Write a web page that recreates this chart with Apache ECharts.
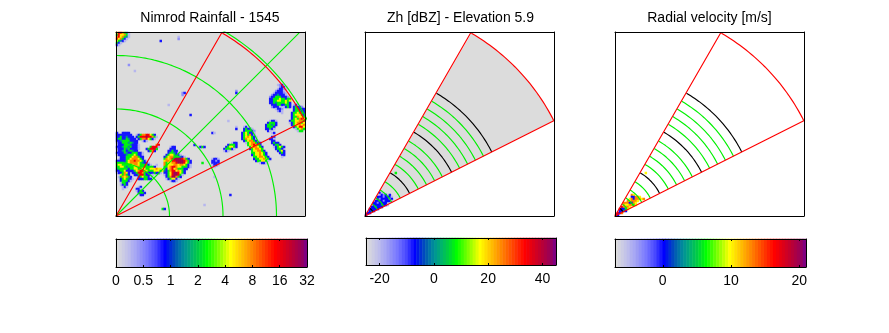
<!DOCTYPE html>
<html>
<head>
<meta charset="utf-8">
<style>
  html, body { margin: 0; padding: 0; background: #fff; }
  #chart { width: 889px; height: 333px; }
</style>
<script src="https://cdn.jsdelivr.net/npm/echarts@6/dist/echarts.min.js"></script>
</head>
<body>
<div id="chart"></div>
<script>
// colour scale, bottom to top
const colourLevels = [
  '#dcdcdc', '#d4d4e0', '#cccce4', '#c4c4e8', '#bcbcec', '#b0b0f0', '#a8a8f4', '#9c9cf4',
  '#9090f8', '#8484fc', '#7878ff', '#6868ff', '#5858ff', '#4848ff', '#3030ff', '#1818ff',
  '#0000ff', '#0018e8', '#0030d4', '#0048c0', '#0060b0', '#0074a8', '#00889c', '#009890',
  '#00a480', '#00b46c', '#00c058', '#00cc44', '#00dc30', '#00ec18', '#00ff00', '#20ff00',
  '#40ff00', '#60ff00', '#80ff00', '#a0ff00', '#c0ff00', '#e0ff00', '#ffff00', '#ffee00',
  '#ffdd00', '#ffcc00', '#ffbb00', '#ffaa00', '#ff9900', '#ff8800', '#ff7700', '#ff6600',
  '#ff5500', '#ff4400', '#ff3300', '#ff2200', '#ff1100', '#ff0000', '#f40008', '#e80010',
  '#dc0018', '#d00024', '#c4002c', '#b80038', '#ac0044', '#a00050', '#940060', '#800080'
]

// tick labels
const rainTicks = ['0', '0.5', '1', '2', '4', '8', '16', '32']
const dbzTicks = [-20, 0, 20, 40]
const velTicks = [0, 10, 20]

// what each letter of the rasters below stands for, in the unit of the panel
const rainCodes = { l: 0.25, m: 0.45, b: 0.8, t: 1.4, g: 2.4, y: 5, o: 8, r: 16, p: 27 }
const dbzCodes = { l: -20, m: -15, b: -7.5, t: 0, g: 8, y: 17 }
const velCodes = { l: -5, b: 0, t: 3, g: 6, y: 10, o: 13, r: 17 }

// runs of cells: [first column, row from the top, one letter per cell]
const rainCorner = [
  [0, 0, 'yrrogtl'], [0, 1, 'gryyogl'], [0, 2, 'oryogtl'], [0, 3, 'ryogbl'],
  [0, 4, 'ygtbl'], [0, 5, 'gbl'], [0, 6, 'bl']
]
const rainWest = [
  [0, 50, 'b..bbbb'],
  [0, 51, 'bbbbbbbb..lbgoorrygb'],
  [0, 52, 'bbgbbtbbb.bgrrrprrogl'],
  [0, 53, 'bggbbgtbbb.bgoorygbl'],
  [0, 54, 'bbtggggbbbb..lbl'],
  [0, 55, 'mbbgggtgtbb'],
  [0, 56, 'lbbbgggtbbbl........or'],
  [0, 57, 'bbbtggtgbbbl.....grrrl.....lbb'],
  [0, 58, 'mbbbgtgbbbbl...bgrrpg......bbb'],
  [0, 59, 'lbbtgbtgtbb.....bgob......bbgbb'],
  [0, 60, 'bbbbgtbbgggbbl............bggtbl'],
  [0, 61, 'lbbbbtgggygbbl...........bgyygbbl'],
  [0, 62, '..bbbgggyoogbb..........bgyoogggtbl'],
  [0, 63, '.lbbbggyoooygb..........goyorpppprogb'],
  [0, 64, 'bbbbbgyoorooygbl........yooyrrpppprogb'],
  [0, 65, 'ggggtgyooooygtbbl.......ogyyoorppprygb'],
  [0, 66, 'gyygggggyooyggggbl..l...ogyyyooyooygbl'],
  [0, 67, 'ggyygtgggyyogggggggb....ggyorroyygggbl'],
  [0, 68, 'tgggggbggyygoyyggyyyoyy.gbyoryogggbb'],
  [0, 69, 'bbggybbbbgyorroygggyyygytbgorryoygb'],
  [0, 70, 'lbbgoyb.bbgrrogbbbbgbbl.bbgyrpprygb'],
  [0, 71, '..ygogb..bbgrrgbb.l.....lbgyrpprgl'],
  [0, 72, '.lgoyogb...bgyggbl.......bgoppogb'],
  [0, 73, '..bgygtbl.lbbbggbb.......lbgyybl'],
  [0, 74, '..bgggbl...................lbbl'],
  [0, 75, '..lggb'], [0, 76, '..lbgb'], [0, 77, '...lbl.....lb'],
  [0, 78, '...l......bbl'], [0, 79, '..........lbgb'], [0, 80, '...........bggb'], [0, 81, '............bb']
]
const rainCentre = [
  [64, 47, 'lbl'], [64, 48, 'bgbbl'], [64, 49, 'bgggbm'], [63, 50, 'bgygbbl'], [63, 51, 'bgygobm'],
  [63, 52, 'bgyoygbl'], [63, 53, 'bgoyygbl'], [64, 54, 'bgyoogbl'], [65, 55, 'lgyoogbb'],
  [66, 56, 'gyorogb'], [67, 57, 'gyooygb'], [67, 58, 'bgyooyg'], [68, 59, 'gyyoogb'],
  [68, 60, 'ggyyoygb'], [68, 61, 'bgyyoygb'], [69, 62, 'ggyooygb'], [69, 63, 'bggyyoygb'],
  [70, 64, 'bggyygl'], [72, 65, 'lbbl'],
  [58, 55, 'lbb'], [56, 56, 'bgggb'], [55, 57, 'bgyygb'], [54, 58, 'bgggbl'], [54, 59, 'lbl'],
  [48, 63, 'lbbl'], [48, 64, 'bbmb'], [48, 65, 'bbbb'], [48, 66, 'lbbl'], [49, 67, 'l']
]
const rainEast = [
  [77, 44, 'lbbl'], [76, 45, 'bgggb'], [75, 46, 'bggtgb'], [75, 47, 'bgggb'], [75, 48, 'bbgbl'], [76, 49, 'bl'],
  [78, 50, 'lb'], [78, 52, 'bb'], [77, 53, 'bbl'], [78, 54, 'bb'], [78, 55, 'bgbb'], [79, 56, 'bggb'],
  [79, 57, 'lbgygb'], [80, 58, 'bggb'], [81, 59, 'bgyb'], [82, 60, 'bgb'], [83, 61, 'bb'], [83, 62, 'l'],
  [81, 26, 'lmb'], [82, 27, 'mbbl'], [81, 28, 'lbbml'], [80, 29, 'mbbbl'], [79, 30, 'lbbbbml'], [78, 31, 'mbbtbbbl'],
  [77, 32, 'mbbgggbbbm'], [77, 33, 'bbgggyggbgg'], [77, 34, 'bbggyyggygy'], [77, 35, 'bbgtggggygb'],
  [78, 36, 'bbbggbbggb'], [78, 37, 'mbbbl.lbgb'], [80, 38, 'lbbm'], [81, 39, 'mbl'], [83, 40, 'l'],
  [89, 36, 'lb'], [89, 37, 'bgbbm'], [89, 38, 'bggbbb'], [89, 39, 'bgggbb'], [88, 40, 'bggyggb'], [88, 41, 'bgyyygb'],
  [88, 42, 'bggoyyg'], [88, 43, 'bgygory'], [87, 44, 'bggyyoog'], [87, 45, 'lbgyoogy'], [88, 46, 'bgyyoyo'],
  [89, 47, 'bgyrry'], [90, 48, 'lgyog'], [91, 49, 'lgg']
]
const rainSpecks = [
  [31, 2, 'l'], [31, 3, 'm'], [22, 4, 'b'], [6, 16, 'm'], [9, 19, 'l'], [33, 30, 'mb'], [33, 31, 'm'],
  [60, 29, 'm'], [60, 30, 'b'], [37, 41, 'b'], [26, 36, 'l'], [23, 88, 'gb'], [44, 86, 'l'], [57, 81, 'b'],
  [49, 72, 'l'], [41, 57, 'lbgb'], [39, 56, 'b'], [48, 50, 'bl'], [60, 47, 'l'], [60, 48, 'b'],
  [43, 65, 'g'], [56, 44, 'l']
]
const dbzCells = [
  [7, 80, 'bl'], [7, 81, 'lbmb.b'], [6, 82, 'bbbmbbbl'], [6, 83, 'bmbbbbmb'], [5, 84, 'bbbbmbbbl'],
  [4, 85, 'bbmbbbb'], [4, 86, 'bbbbtbbl'], [3, 87, 'bbtbbb'], [2, 88, 'bbbbb'], [2, 89, 'btb'],
  [1, 90, 'bb'], [0, 91, 'b'], [15, 70, 'g']
]
const velCells = [
  [8, 81, 'oy'], [8, 82, 'bbooy'], [7, 83, 'yoboooyo'], [6, 84, 'oyoooy'], [4, 85, 'ooobboy'],
  [4, 86, 'oyyoogy'], [3, 87, 'roooy'], [2, 88, 'rbbgy'], [2, 89, 'bbtb'], [1, 90, 'rbo'], [0, 91, 'rb'],
  [15, 70, 'y']
]

// radar geometry, same unit as the axes
const sectorAngles = [26.8, 60]
const sectorRange = 211.5
const rainRings = [53.5, 107, 160.5, 214]
const rainMidRay = 45
const beamBlackRings = [9, 50, 97, 142]
const beamGreenRings = [14, 21, 30, 39.6, 59.7, 69, 78, 86.7, 106, 115, 123.7, 132.7]

const COLS = 95
const ROWS = 92
const RED = '#ff0000'
const GREEN = '#00f000'
const BLACK = '#000000'

function rainPosition (v) {
  return v < 0.5 ? v / 0.5 : 1 + Math.log2(v / 0.5)
}

function unpack (runs, codes, toScale) {
  let cells = []
  runs.forEach(([col, row, text]) => {
    text.split('').forEach((c, i) => {
      if (c !== '.') cells.push([col + i, row, toScale ? toScale(codes[c]) : codes[c]])
    })
  })
  return cells
}

function polar (angle, r) {
  let a = angle * Math.PI / 180
  return [r * Math.cos(a), r * Math.sin(a)]
}

function ray (angle, r) {
  return [[0, 0], polar(angle, r / 2), polar(angle, r)]
}

function arc (r, from, to) {
  let pts = []
  for (let d = from; d <= to + 0.01; d += 0.5) pts.push(polar(d, r))
  return pts
}

let grid = []
let xAxis = []
let yAxis = []
let series = []
let visualMap = []

function addAxis (list, opts) {
  list.push(Object.assign({ show: false, silent: true }, opts))
  return list.length - 1
}

function frameSide (pos, min, max) {
  return {
    show: true, type: 'value', position: pos, min, max, z: 10,
    axisLine: { show: true, onZero: false, lineStyle: { color: BLACK, width: 1 } },
    axisTick: { show: false },
    axisLabel: { show: false },
    splitLine: { show: false }
  }
}

function addLine (xi, yi, data, color, z) {
  series.push({
    type: 'line', xAxisIndex: xi, yAxisIndex: yi, data, z: z || 3,
    showSymbol: false, symbol: 'none', silent: true, animation: false,
    lineStyle: { color, width: 1.15 }
  })
}

function addCells (gi, data, min, max) {
  let xi = addAxis(xAxis, { type: 'category', gridIndex: gi, data: Array.from({ length: COLS }, (_, i) => i) })
  let yi = addAxis(yAxis, { type: 'category', gridIndex: gi, inverse: true, data: Array.from({ length: ROWS }, (_, i) => i) })
  series.push({ type: 'heatmap', xAxisIndex: xi, yAxisIndex: yi, data, z: 2, silent: true, animation: false })
  visualMap.push({
    show: false, type: 'continuous', min, max, dimension: 2,
    seriesIndex: series.length - 1, inRange: { color: colourLevels }
  })
}

// one map panel: frame, value axes for the overlay lines, raster cells
function addPanel (left, bg, cells, min, max) {
  grid.push({
    left, top: 32, width: 189, height: 184, show: true,
    backgroundColor: bg, borderWidth: 0
  })
  let gi = grid.length - 1
  let xi = addAxis(xAxis, Object.assign(frameSide('bottom', 0, 189), { gridIndex: gi }))
  addAxis(xAxis, Object.assign(frameSide('top', 0, 189), { gridIndex: gi }))
  let yi = addAxis(yAxis, Object.assign(frameSide('left', 0, 184), { gridIndex: gi }))
  addAxis(yAxis, Object.assign(frameSide('right', 0, 184), { gridIndex: gi }))
  addCells(gi, cells, min, max)
  return [xi, yi]
}

function addSectorEdge (xi, yi) {
  addLine(xi, yi, ray(sectorAngles[0], sectorRange), RED, 4)
  addLine(xi, yi, ray(sectorAngles[1], sectorRange), RED, 4)
  addLine(xi, yi, arc(sectorRange, sectorAngles[0], sectorAngles[1]), RED, 4)
}

function addBeamRings (xi, yi) {
  beamGreenRings.forEach(r => addLine(xi, yi, arc(r, sectorAngles[0], sectorAngles[1]), GREEN))
  beamBlackRings.forEach(r => addLine(xi, yi, arc(r, sectorAngles[0], sectorAngles[1]), BLACK))
}

function addColourBar (left, top, width, height, min, max, ticks, margin, fmt) {
  grid.push({ left, top, width, height })
  let gi = grid.length - 1
  let levels = colourLevels.map((_, i) => i)
  let step = (max - min) / (levels.length - 1)
  let xc = addAxis(xAxis, { type: 'category', gridIndex: gi, data: levels })
  let yc = addAxis(yAxis, { type: 'category', gridIndex: gi, data: ['bar'] })
  series.push({
    type: 'heatmap', xAxisIndex: xc, yAxisIndex: yc, z: 2, silent: true, animation: false,
    data: levels.map(i => [i, 0, min + i * step])
  })
  visualMap.push({
    show: false, type: 'continuous', min, max, dimension: 2,
    seriesIndex: series.length - 1, inRange: { color: colourLevels }
  })
  let tick = { show: true, inside: true, length: 2, customValues: ticks, lineStyle: { color: BLACK, width: 1 } }
  addAxis(xAxis, Object.assign(frameSide('bottom', min, max), {
    gridIndex: gi,
    axisTick: tick,
    axisLabel: {
      show: true, customValues: ticks, margin, hideOverlap: false,
      color: '#000', fontFamily: 'Liberation Sans', fontSize: 14,
      formatter: fmt || (v => String(v))
    }
  }))
  addAxis(xAxis, Object.assign(frameSide('top', min, max), { gridIndex: gi, axisTick: tick }))
  addAxis(yAxis, Object.assign(frameSide('left', 0, 1), { gridIndex: gi }))
  addAxis(yAxis, Object.assign(frameSide('right', 0, 1), { gridIndex: gi }))
}

// rain panel
let rainCells = [rainCorner, rainWest, rainCentre, rainEast, rainSpecks]
  .reduce((all, runs) => all.concat(unpack(runs, rainCodes, rainPosition)), [])
let [rx, ry] = addPanel(116, '#dcdcdc', rainCells, 0, 7)
rainRings.forEach(r => addLine(rx, ry, arc(r, 0, 90), GREEN))
addLine(rx, ry, ray(rainMidRay, 259), GREEN)
addSectorEdge(rx, ry)

// reflectivity panel
let [zx, zy] = addPanel(365, '#ffffff', unpack(dbzCells, dbzCodes), -25, 45)
series.push({
  type: 'custom', xAxisIndex: zx, yAxisIndex: zy, z: 1, silent: true, animation: false, clip: true,
  data: [[0, 0]],
  renderItem: (params, api) => ({
    type: 'polygon',
    shape: {
      points: [[0, 0]].concat(arc(sectorRange, sectorAngles[0], sectorAngles[1])).map(p => api.coord(p))
    },
    style: { fill: '#dcdcdc' }
  })
})
addBeamRings(zx, zy)
addSectorEdge(zx, zy)

// velocity panel
let [vx, vy] = addPanel(615, '#ffffff', unpack(velCells, velCodes), -7, 21)
addBeamRings(vx, vy)
addSectorEdge(vx, vy)

// colour bars
addColourBar(116, 239, 191, 28, 0, 7, rainTicks.map((_, i) => i), 7, v => rainTicks[v])
addColourBar(366, 238, 190, 27, -25, 45, dbzTicks, 7)
addColourBar(615, 239, 191, 28, -7, 21, velTicks, 7)

const titleStyle = { color: '#000', fontFamily: 'Liberation Sans', fontSize: 14, fontWeight: 'normal' }
let chart = echarts.init(document.getElementById('chart'), null, { renderer: 'canvas' })
chart.setOption({
  animation: false,
  backgroundColor: '#fff',
  title: [
    { text: 'Nimrod Rainfall - 1545', left: 210, top: 11, padding: 0, textAlign: 'center', textStyle: titleStyle },
    { text: 'Zh [dBZ] - Elevation 5.9', left: 460.5, top: 11, padding: 0, textAlign: 'center', textStyle: titleStyle },
    { text: 'Radial velocity [m/s]', left: 709.5, top: 11, padding: 0, textAlign: 'center', textStyle: titleStyle }
  ],
  grid,
  xAxis,
  yAxis,
  visualMap,
  series
})
</script>
</body>
</html>
